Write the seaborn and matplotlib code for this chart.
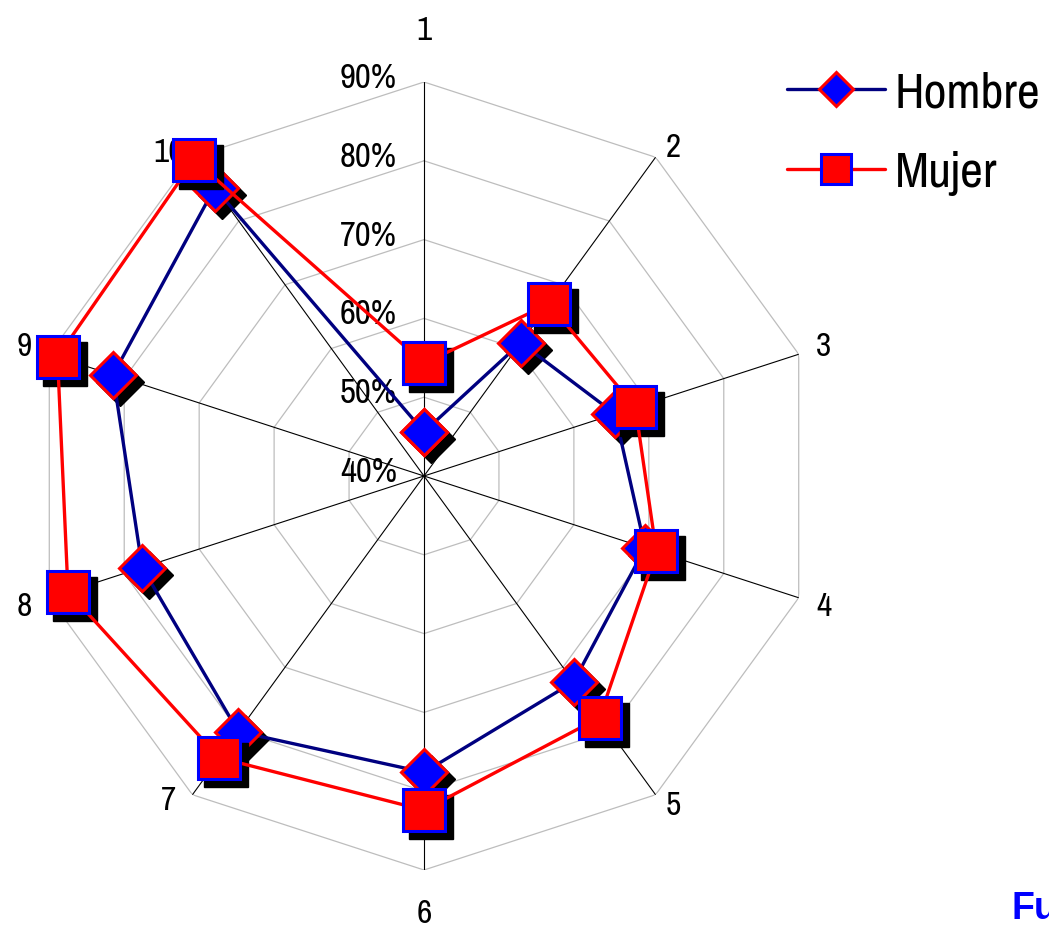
import numpy as np
import pandas as pd
import matplotlib
matplotlib.use("Agg")
import matplotlib.pyplot as plt
import matplotlib.transforms as mtransforms
from matplotlib import font_manager
from matplotlib.lines import Line2D
import seaborn as sns

# data (percent)
categories = ["1", "2", "3", "4", "5", "6", "7", "8", "9", "10"]
hombre = [45.6, 60.9, 65.5, 69.5, 72.3, 77.6, 80.1, 77.6, 81.5, 85.2]
mujer = [54.3, 67.0, 68.2, 71.0, 77.9, 82.4, 84.2, 87.5, 88.9, 89.6]
r_ticks = [40, 50, 60, 70, 80, 90]
series_names = ["Hombre", "Mujer"]

sns.set_theme(style="white")

# look for a narrow face (the original uses Arial Narrow)
ttf = font_manager.fontManager.ttflist
narrow = [f.name for f in ttf if "Narrow" in f.name or "Condensed" in f.name]
cond = [f.name for f in ttf if f.stretch in ("condensed", "semi-condensed", 400)]
stretch = "normal"
if narrow:
    font = [narrow[0], "DejaVu Sans"]
elif cond:
    font = [cond[0], "DejaVu Sans"]
    stretch = "condensed"
else:
    font = ["DejaVu Sans"]
plt.rcParams["font.family"] = font
plt.rcParams["font.stretch"] = stretch

fig = plt.figure(figsize=(10.49, 9.28), dpi=100)
ax = fig.add_axes([30 / 1049, 57 / 928, 788 / 1049, 788 / 928], projection="polar")
ax.set_theta_zero_location("N")
ax.set_theta_direction(-1)
ax.set_ylim(40, 90)
ax.grid(False)
ax.spines["polar"].set_visible(False)
ax.set_facecolor("white")

n = len(categories)
theta = np.arange(n) * 2 * np.pi / n
theta_closed = np.append(theta, 2 * np.pi)

# polygon grid
for r in r_ticks[1:]:
    ax.plot(theta_closed, [r] * (n + 1), color="#BDBDBD", lw=0.9, zorder=1)
# spokes
for t in theta:
    ax.plot([t, t], [40, 90], color="black", lw=0.8, zorder=1)

# percent labels along axis 1
lab_trans = ax.transData + mtransforms.ScaledTranslation(-0.27, 0.05, fig.dpi_scale_trans)
for r in r_ticks:
    ax.text(0, r, f"{r}%", ha="right", va="center", fontsize=25,
            color="black", transform=lab_trans, family=font, stretch=stretch)

# category labels
for t, lab in zip(theta, categories):
    c = np.cos(t)
    if c > 0.99:
        rr, tt = 96.6, t
    elif c < -0.99:
        rr, tt = 95.5, t
    elif abs(c) > 0.5:
        shift = 2.2 if np.sin(t) < 0 else 1.2
        rr, tt = 92.4, t + np.sign(np.sin(t)) * np.sign(c) * np.radians(shift)
    else:
        rr, tt = 93.3, t
    ax.text(tt, rr, lab, ha="center", va="center", fontsize=24,
            color="black", family=font, stretch=stretch)

shadow = ax.transData + mtransforms.ScaledTranslation(0.07, -0.07, fig.dpi_scale_trans)

styles = {
    "Hombre": dict(vals=hombre, line="#000080", face="#0000FF", edge="#FF0000",
                   marker="D", ms=23),
    "Mujer": dict(vals=mujer, line="#FF0000", face="#FF0000", edge="#0000FF",
                  marker="s", ms=30),
}

z = 3
for name in series_names:
    s = styles[name]
    vals_closed = np.append(s["vals"], s["vals"][0])
    ax.plot(theta, s["vals"], ls="none", marker=s["marker"], ms=s["ms"] + 1,
            color="black", mec="black", transform=shadow, zorder=z, clip_on=False)
    df = pd.DataFrame({"theta": theta_closed, "val": vals_closed})
    sns.lineplot(data=df, x="theta", y="val", ax=ax, sort=False, estimator=None,
                 color=s["line"], lw=2.4, marker=s["marker"], markersize=s["ms"],
                 markerfacecolor=s["face"], markeredgecolor=s["edge"],
                 markeredgewidth=2.2, zorder=z + 1, clip_on=False)
    z += 2

ax.set_xlabel("")
ax.set_ylabel("")
ax.set_xticks([])
ax.set_yticks([])

handles = [
    Line2D([], [], color="#000080", lw=2.4, marker="D", ms=17,
           mfc="#0000FF", mec="#FF0000", mew=2.2),
    Line2D([], [], color="#FF0000", lw=2.4, marker="s", ms=21,
           mfc="#FF0000", mec="#0000FF", mew=2.2),
]
leg = fig.legend(handles, series_names, loc="upper left",
                 bbox_to_anchor=(787 / 1049, 1 - 71 / 928), frameon=False,
                 prop={"family": font, "size": 36, "stretch": stretch},
                 handlelength=1.95, handletextpad=0.2, labelspacing=0.7,
                 borderaxespad=0, borderpad=0)
for txt in leg.get_texts():
    txt.set_color("black")

fig.text(1012 / 1049, 9 / 928, "Fuente", color="#0000FF", fontsize=27,
         fontweight="bold", family=["Liberation Sans", "DejaVu Sans"],
         ha="left", va="baseline")

fig.savefig("out.png", dpi=100)
